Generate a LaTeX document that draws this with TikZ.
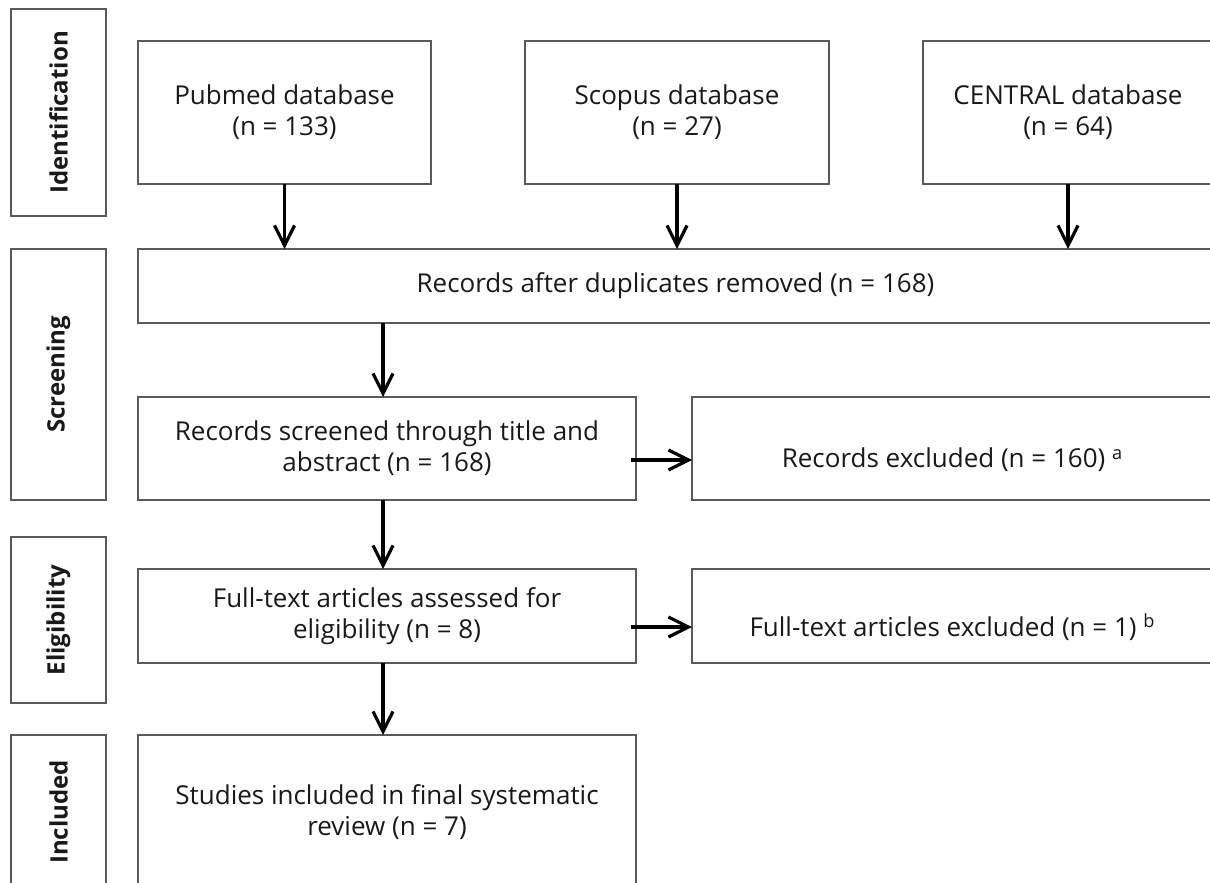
\documentclass[tikz,border=0pt]{standalone}
\usepackage{fontspec}
\setmainfont{Open Sans}
\usepackage{xcolor}
\usepackage{tikz}
\usetikzlibrary{arrows.meta, calc}
\definecolor{boxgray}{RGB}{90,90,90}
\definecolor{textgray}{RGB}{25,25,25}

\begin{document}
\begin{tikzpicture}[
    x=0.5pt, y=-0.5pt,
    stage/.style={rectangle, draw=boxgray, line width=0.75pt, rotate=90, minimum height=47.5pt, inner sep=0pt, outer sep=0pt, text=textgray, font=\fontsize{12}{14}\selectfont\bfseries},
    box/.style={rectangle, draw=boxgray, line width=0.75pt, inner sep=0pt, outer sep=0pt, align=center, text=textgray, font=\fontsize{13}{15.5}\selectfont},
    boxtext/.style={inner sep=0pt, text=textgray, font=\fontsize{13}{15.5}\selectfont},
    arrow/.style={-{Straight Barb[length=10pt, width=10pt, line width=1.6pt]}, line width=1.6pt, color=black}
]

\path[use as bounding box, clip] (0,0) rectangle (1210,883);

\node[stage, minimum width=103.5pt] (ident) at (58.5,112.5) {Identification};
\node[stage, minimum width=125.5pt] (screenlbl) at (58.5,374.5) {Screening};
\node[stage, minimum width=83pt] (eliglbl) at (58.5,620) {Eligibility};
\node[stage, minimum width=77pt] (inclbl) at (58.5,812) {Included};

\node[box, minimum width=146.5pt, minimum height=71.5pt] (pubmed) at (284.5,112.5) {Pubmed database\\(n = 133)};
\node[box, minimum width=152pt, minimum height=71.5pt] (scopus) at (677,112.5) {Scopus database\\(n = 27)};
\node[box, minimum width=145pt, minimum height=71.5pt] (central) at (1068,112.5) {CENTRAL database\\(n = 64)};

\node[box, minimum width=537.5pt, minimum height=37pt] (dups) at (675.5,286) {Records after duplicates removed (n = 168)};

\node[box, minimum width=249pt, minimum height=51.5pt] (screened) at (387,448.5) {Records screened through title and\\abstract (n = 168)};
\node[box, minimum width=260.5pt, minimum height=51.5pt] (excl1) at (952.5,448.5) {};
\node[boxtext] (excl1txt) at ([yshift=-5.75pt]excl1.center) {Records excluded (n = 160)~\textsuperscript{a}};

\node[box, minimum width=249pt, minimum height=47pt] (fulltext) at (387,616) {Full-text articles assessed for\\eligibility (n = 8)};
\node[box, minimum width=260.5pt, minimum height=47pt] (excl2) at (952.5,616) {};
\node[boxtext] (excl2txt) at ([yshift=-5.5pt]excl2.center) {Full-text articles excluded (n = 1)~\textsuperscript{b}};

\node[box, minimum width=249pt, minimum height=77pt] (studies) at (387,812) {Studies included in final systematic\\review (n = 7)};

\draw[arrow] (pubmed.south) -- (pubmed.south |- dups.north);
\draw[arrow] (scopus.south) -- (scopus.south |- dups.north);
\draw[arrow] (central.south) -- (central.south |- dups.north);

\draw[arrow] ([xshift=-2pt]screened.north |- dups.south) -- ([xshift=-2pt]screened.north);
\draw[arrow] ([xshift=-2pt]screened.south) -- ([xshift=-2pt]fulltext.north);
\draw[arrow] ([xshift=-2pt]fulltext.south) -- ([xshift=-2pt]studies.north);

\draw[arrow] ([xshift=-2.5pt]screened.east |- excl1txt) -- (excl1.west |- excl1txt);
\draw[arrow] ([xshift=-2.5pt]fulltext.east |- excl2txt) -- (excl2.west |- excl2txt);

\end{tikzpicture}
\end{document}
